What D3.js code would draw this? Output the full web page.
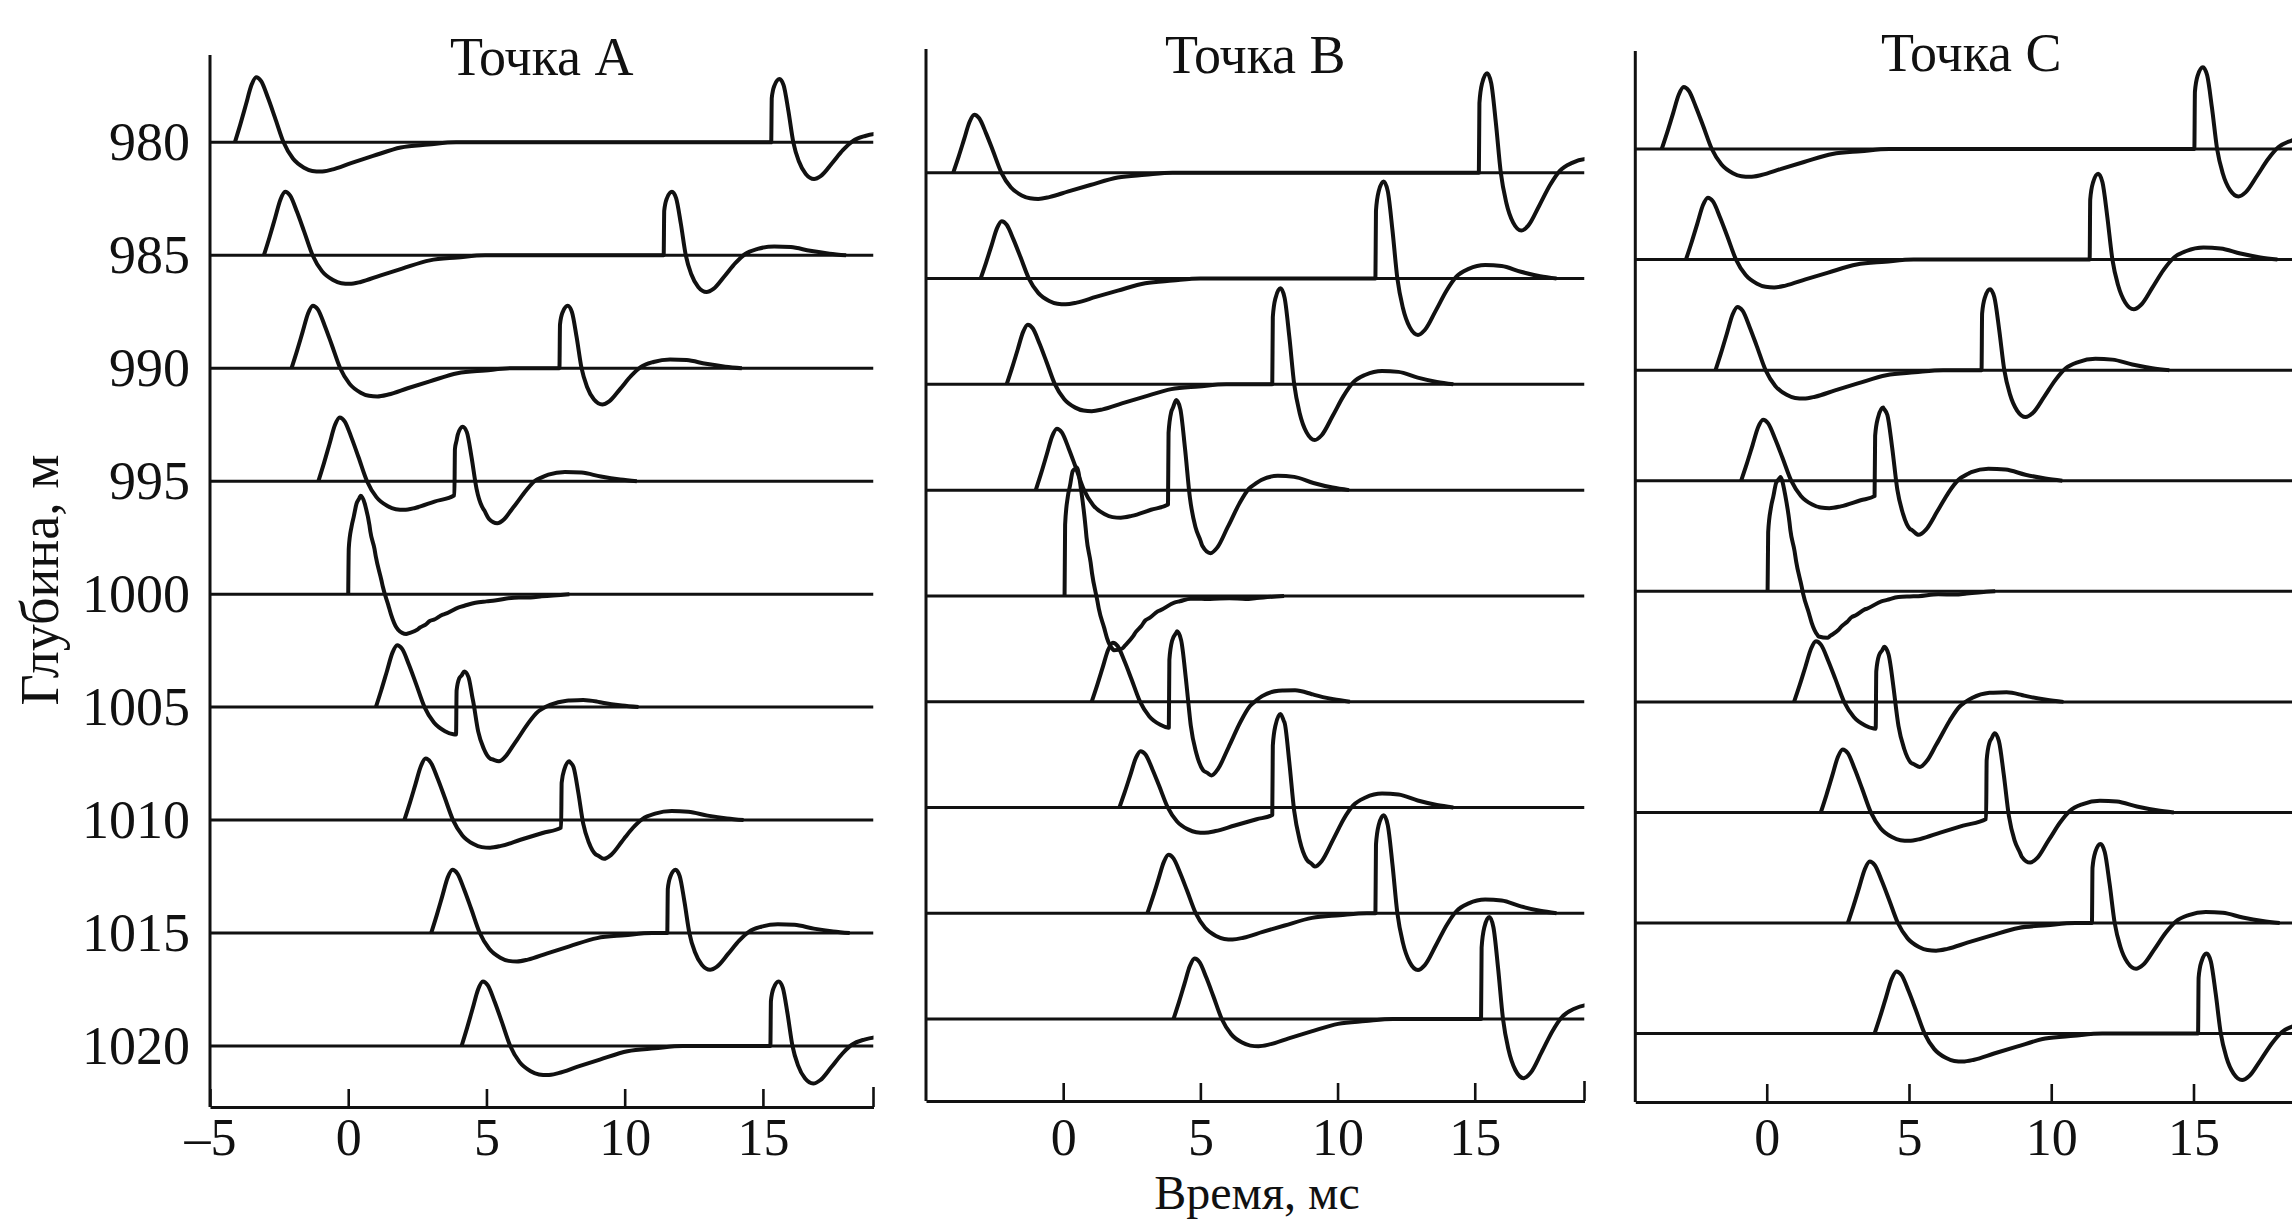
<!DOCTYPE html>
<html>
<head>
<meta charset="utf-8">
<script src="https://cdn.jsdelivr.net/npm/d3@7"></script>
<style>
  body { margin: 0; background: #fff; }
  text { font-family: "Liberation Serif", "Times New Roman", serif; fill: #111; }
</style>
</head>
<body>
<div id="chart"></div>
<script>
var depths = [980, 985, 990, 995, 1000, 1005, 1010, 1015, 1020];
var timeTicks = [-5, 0, 5, 10, 15];
var pointNames = ["Точка A", "Точка B", "Точка C"];

// arrival time (ms) and peak height (m) of the direct and reflected pulses, one per depth
var directOnsetA = [-4.1, -3.05, -2.05, -1.08, 0, 1.0, 2.03, 3.0, 4.1];
var directAmpA   = [2.88, 2.81, 2.77, 2.82, 2.8, 2.74, 2.72, 2.8, 2.86];
var reflOnsetA   = [15.3, 11.41, 7.64, 3.84, 0, 3.9, 7.7, 11.54, 15.27];
var reflAmpA     = [2.8, 2.81, 2.77, 2.92, 2.8, 2.79, 2.83, 2.8, 2.86];

var directOnsetB = [-4.01, -3.01, -2.06, -1.0, 0.05, 1.04, 2.05, 3.07, 4.02];
var directAmpB   = [2.74, 2.71, 2.82, 2.9, 2.8, 2.79, 2.66, 2.76, 2.86];
var reflOnsetB   = [15.15, 11.38, 7.62, 3.82, 0.05, 3.85, 7.62, 11.38, 15.23];
var reflAmpB     = [4.71, 4.59, 4.54, 4.82, 4.7, 4.58, 4.68, 4.63, 4.82];

var directOnsetC = [-3.69, -2.84, -1.8, -0.9, 0.03, 0.96, 1.9, 2.85, 3.79];
var directAmpC   = [2.8, 2.8, 2.86, 2.76, 2.8, 2.74, 2.85, 2.78, 2.81];
var reflOnsetC   = [15.03, 11.35, 7.55, 3.79, 0.03, 3.83, 7.71, 11.43, 15.16];
var reflAmpC     = [3.7, 3.88, 3.66, 3.89, 3.7, 3.71, 3.8, 3.57, 3.62];

// pulse shapes (time after onset, ms / relative height)
var directDt    = [0, 0.2, 0.4, 0.6, 0.77, 0.95, 1.2, 1.45, 1.76, 2.1, 2.5, 2.8, 3.1, 3.5, 4.2, 5.0, 6.0, 7.0, 8.0];
var directShape = [0, 0.28, 0.58, 0.88, 1, 0.94, 0.68, 0.38, 0, -0.25, -0.39, -0.44, -0.45, -0.42, -0.32, -0.21, -0.08, -0.035, 0];
var reflDt      = [0, 0.02, 0.12, 0.3, 0.45, 0.62, 0.8, 1.0, 1.25, 1.55, 1.8, 2.2, 2.6, 2.95, 3.4, 4.0, 4.6, 5.3, 6.0, 6.6];
var reflShape   = [0, 0.7, 0.9, 1, 0.9, 0.5, 0, -0.3, -0.5, -0.58, -0.53, -0.33, -0.12, 0.02, 0.1, 0.14, 0.13, 0.07, 0.025, 0];

var width = 2292, height = 1221;
var tickLabelBase = 1155;

var panels = [
  {name: pointNames[0], dOn: directOnsetA, dAmp: directAmpA, rOn: reflOnsetA, rAmp: reflAmpA,
   left: 210, right: 873.5, tMin: -5, tMax: 19, top: 55, bottom: 1107, yFirst: 142.3, yLast: 1046,
   depthLabels: true, negTick: true, endTick: true, titleY: 75},
  {name: pointNames[1], dOn: directOnsetB, dAmp: directAmpB, rOn: reflOnsetB, rAmp: reflAmpB,
   left: 926, right: 1584.5, tMin: -5, tMax: 19, top: 49, bottom: 1101, yFirst: 172.8, yLast: 1019,
   depthLabels: false, negTick: false, endTick: true, titleY: 73},
  {name: pointNames[2], dOn: directOnsetC, dAmp: directAmpC, rOn: reflOnsetC, rAmp: reflAmpC,
   left: 1635.3, right: 2307.3, tMin: -4.62, tMax: 19, top: 51, bottom: 1102, yFirst: 149, yLast: 1033.6,
   depthLabels: false, negTick: false, endTick: false, titleY: 71}
];

var svg = d3.select("#chart").append("svg")
  .attr("width", width)
  .attr("height", height);

function pulse(dts, shape, dt) {
  if (dt < 0 || dt > dts[dts.length - 1]) return 0;
  var i = d3.bisectRight(dts, dt) - 1;
  if (i >= dts.length - 1) return shape[shape.length - 1];
  var f = (dt - dts[i]) / (dts[i + 1] - dts[i]);
  return shape[i] + f * (shape[i + 1] - shape[i]);
}

function tracePoints(dOn, dAmp, rOn, rAmp) {
  var knots = directDt.map(function(d) { return dOn + d; })
    .concat(reflDt.map(function(d) { return rOn + d; }))
    .sort(d3.ascending);
  var ts = [];
  knots.forEach(function(t) {
    if (!ts.length || t - ts[ts.length - 1] > 0.004) ts.push(t);
  });
  return ts.map(function(t) {
    return {t: t, a: dAmp * pulse(directDt, directShape, t - dOn) + rAmp * pulse(reflDt, reflShape, t - rOn)};
  });
}

panels.forEach(function(p, pi) {
  var x = d3.scaleLinear().domain([p.tMin, p.tMax]).range([p.left, p.right]);
  var y = d3.scaleLinear().domain([980, 1020]).range([p.yFirst, p.yLast]);

  var g = svg.append("g").attr("class", "panel");

  g.append("clipPath").attr("id", "clip" + pi)
    .append("rect")
    .attr("x", p.left).attr("y", 0)
    .attr("width", p.right - p.left).attr("height", height);

  // title
  g.append("text")
    .attr("x", (p.left + p.right) / 2)
    .attr("y", p.titleY)
    .attr("text-anchor", "middle")
    .style("font-size", "54px")
    .text(p.name);

  // left axis line
  g.append("line")
    .attr("x1", p.left).attr("x2", p.left)
    .attr("y1", p.top).attr("y2", p.bottom)
    .attr("stroke", "#111").attr("stroke-width", 3);

  if (p.depthLabels) {
    var yAxis = g.append("g")
      .attr("transform", "translate(" + p.left + ",0)")
      .call(d3.axisLeft(y).tickValues(depths).tickSize(0).tickPadding(20).tickFormat(d3.format("d")));
    yAxis.select(".domain").remove();
    yAxis.selectAll("text")
      .attr("font-family", null)
      .style("font-size", "54px")
      .attr("fill", "#111");
  }

  // time axis, ticks pointing up
  var ticks = p.negTick ? timeTicks : timeTicks.filter(function(t) { return t >= 0; });
  var xAxis = g.append("g")
    .attr("transform", "translate(0," + p.bottom + ")")
    .call(d3.axisBottom(x).tickValues(ticks).tickSize(-18).tickSizeOuter(0)
      .tickFormat(function(d) { return d < 0 ? "\u2013" + (-d) : d; }));
  xAxis.select(".domain").attr("stroke", "#111").attr("stroke-width", 3);
  xAxis.selectAll(".tick line").attr("stroke", "#111").attr("stroke-width", 2.6);
  xAxis.selectAll("text")
    .attr("font-family", null)
    .attr("dy", null)
    .attr("y", tickLabelBase - p.bottom)
    .style("font-size", "52px")
    .attr("fill", "#111");
  if (p.endTick) {
    g.append("line")
      .attr("x1", x(p.tMax)).attr("x2", x(p.tMax))
      .attr("y1", p.bottom).attr("y2", p.bottom - 20)
      .attr("stroke", "#111").attr("stroke-width", 2.6);
  }

  var plot = g.append("g").attr("clip-path", "url(#clip" + pi + ")");

  // zero lines of each trace
  plot.selectAll(".zero")
    .data(depths)
    .enter().append("line")
    .attr("class", "zero")
    .attr("x1", x(p.tMin)).attr("x2", x(p.tMax))
    .attr("y1", function(d) { return y(d); })
    .attr("y2", function(d) { return y(d); })
    .attr("stroke", "#111").attr("stroke-width", 3);

  // traces
  depths.forEach(function(depth, i) {
    var pts = tracePoints(p.dOn[i], p.dAmp[i], p.rOn[i], p.rAmp[i]);
    var line = d3.line()
      .x(function(d) { return x(d.t); })
      .y(function(d) { return y(depth - d.a); })
      .curve(d3.curveMonotoneX);
    plot.append("path")
      .attr("d", line(pts))
      .attr("fill", "none")
      .attr("stroke", "#111")
      .attr("stroke-width", 4)
      .attr("stroke-linejoin", "round");
  });
});

svg.append("text")
  .attr("x", 1257)
  .attr("y", 1209)
  .attr("text-anchor", "middle")
  .style("font-size", "48px")
  .text("Время, мс");

svg.append("text")
  .attr("transform", "translate(58,580) rotate(-90)")
  .attr("text-anchor", "middle")
  .style("font-size", "54px")
  .text("Глубина, м");
</script>
</body>
</html>
